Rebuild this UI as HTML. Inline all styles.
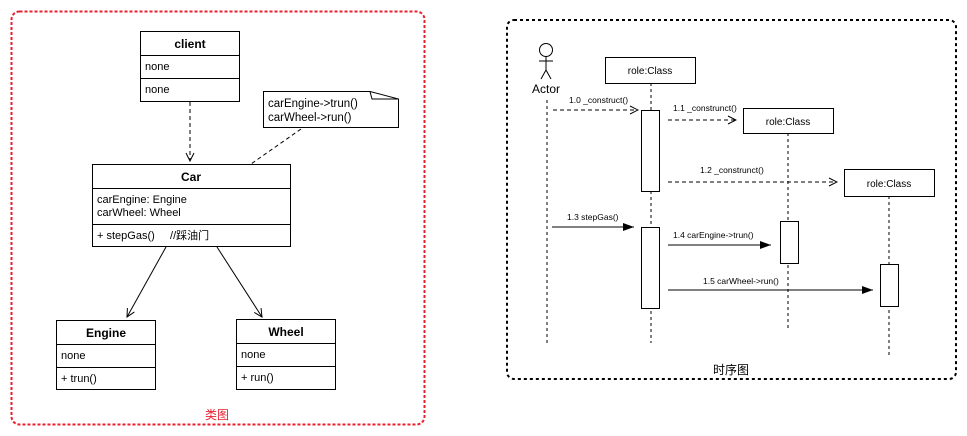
<!DOCTYPE html>
<html><head><meta charset="utf-8"><style>
html,body{margin:0;padding:0;background:#fff;width:967px;height:436px;overflow:hidden}
text{font-family:"Liberation Sans","Noto Sans CJK SC",sans-serif;fill:#000}
</style></head><body>
<svg width="967" height="436" viewBox="0 0 967 436" xmlns="http://www.w3.org/2000/svg">
<defs>
<marker id="op" markerWidth="10" markerHeight="10" refX="9" refY="5" orient="auto" markerUnits="userSpaceOnUse"><path d="M1,1 L9,5 L1,9" fill="none" stroke="#000" stroke-width="1"/></marker>
<marker id="fl" markerWidth="12" markerHeight="10" refX="11" refY="5" orient="auto" markerUnits="userSpaceOnUse"><path d="M0,1 L11,5 L0,9 Z" fill="#000"/></marker>
</defs>
<!-- left frame -->
<rect x="11.5" y="11.5" width="413" height="413" rx="8" fill="none" stroke="#e8202e" stroke-width="2" stroke-dasharray="3 2"/>
<text x="217" y="419" font-size="12" text-anchor="middle" style="fill:#e8202e">类图</text>
<g fill="#fff" stroke="#000" stroke-width="1">
<rect x="140.5" y="31.5" width="99" height="70"/>
<line x1="140" y1="55.5" x2="240" y2="55.5"/><line x1="140" y1="78.5" x2="240" y2="78.5"/>
<rect x="92.5" y="164.5" width="198" height="82"/>
<line x1="92" y1="188.5" x2="291" y2="188.5"/><line x1="92" y1="224.5" x2="291" y2="224.5"/>
<rect x="56.5" y="320.5" width="99" height="69"/>
<line x1="56" y1="344.5" x2="156" y2="344.5"/><line x1="56" y1="367.5" x2="156" y2="367.5"/>
<rect x="236.5" y="319.5" width="99" height="70"/>
<line x1="236" y1="343.5" x2="336" y2="343.5"/><line x1="236" y1="366.5" x2="336" y2="366.5"/>
<path d="M263.5,91.5 H370 L398.5,99 V127.5 H263.5 Z"/>
<path d="M370,91.5 L372,99 L398.5,99" fill="none"/>
</g>
<g font-size="11">
<text x="190" y="48" font-weight="bold" font-size="12" text-anchor="middle">client</text>
<text x="145" y="70">none</text><text x="145" y="93">none</text>
<text x="191" y="181" font-weight="bold" font-size="12" text-anchor="middle">Car</text>
<text x="97" y="203">carEngine: Engine</text><text x="97" y="216">carWheel: Wheel</text>
<text x="97" y="239">+ stepGas()&#160;&#160;&#160;&#160; //踩油门</text>
<text x="106" y="337" font-weight="bold" font-size="12" text-anchor="middle">Engine</text>
<text x="61" y="359">none</text><text x="61" y="382">+ trun()</text>
<text x="286" y="336" font-weight="bold" font-size="12" text-anchor="middle">Wheel</text>
<text x="241" y="358">none</text><text x="241" y="381">+ run()</text>
<text x="268" y="107" font-size="11.5">carEngine-&gt;trun()</text>
<text x="268" y="121" font-size="11.5">carWheel-&gt;run()</text>
</g>
<g stroke="#000" fill="none">
<line x1="190" y1="102" x2="190" y2="161" stroke-dasharray="4 3" marker-end="url(#op)"/>
<line x1="301" y1="129" x2="251" y2="164" stroke-dasharray="4 3"/>
<line x1="166" y1="247" x2="127" y2="317" marker-end="url(#op)"/>
<line x1="217" y1="247" x2="262" y2="317" marker-end="url(#op)"/>
</g>
<!-- right frame -->
<rect x="507" y="20" width="449" height="359" rx="7" fill="none" stroke="#000" stroke-width="2" stroke-dasharray="3 3"/>
<text x="731" y="374" font-size="12" text-anchor="middle">时序图</text>
<!-- actor -->
<g stroke="#000" fill="none">
<circle cx="546" cy="50" r="6.5"/>
<line x1="546" y1="56" x2="546" y2="70"/><line x1="539" y1="61" x2="553" y2="61"/>
<line x1="546" y1="70" x2="541" y2="79"/><line x1="546" y1="70" x2="551" y2="79"/>
</g>
<text x="546" y="93" font-size="12" text-anchor="middle">Actor</text>
<g stroke="#000" stroke-dasharray="3 3" fill="none">
<line x1="547" y1="100" x2="547" y2="343"/>
<line x1="651" y1="83" x2="651" y2="343"/>
<line x1="788" y1="133" x2="788" y2="330"/>
<line x1="889" y1="196" x2="889" y2="357"/>
</g>
<g fill="#fff" stroke="#000">
<rect x="605.5" y="57.5" width="90" height="26"/>
<rect x="743.5" y="108.5" width="90" height="25"/>
<rect x="844.5" y="169.5" width="90" height="27"/>
<rect x="641.5" y="110.5" width="18" height="81"/>
<rect x="641.5" y="227.5" width="18" height="81"/>
<rect x="780.5" y="221.5" width="18" height="42"/>
<rect x="880.5" y="264.5" width="18" height="42"/>
</g>
<g font-size="10" text-anchor="middle">
<text x="650" y="74">role:Class</text>
<text x="788" y="125">role:Class</text>
<text x="889" y="187">role:Class</text>
</g>
<g stroke="#000" fill="none">
<line x1="553" y1="110" x2="638" y2="110" stroke-dasharray="4 3" marker-end="url(#op)"/>
<line x1="668" y1="120" x2="736" y2="120" stroke-dasharray="4 3" marker-end="url(#op)"/>
<line x1="668" y1="182" x2="837" y2="182" stroke-dasharray="4 3" marker-end="url(#op)"/>
<line x1="552" y1="227" x2="634" y2="227" marker-end="url(#fl)"/>
<line x1="668" y1="245" x2="771" y2="245" marker-end="url(#fl)"/>
<line x1="668" y1="290" x2="873" y2="290" marker-end="url(#fl)"/>
</g>
<g font-size="8.5">
<text x="569" y="103">1.0 _construct()</text>
<text x="673" y="111">1.1 _construnct()</text>
<text x="700" y="173">1.2 _construnct()</text>
<text x="567" y="220">1.3 stepGas()</text>
<text x="673" y="238">1.4 carEngine-&gt;trun()</text>
<text x="703" y="284">1.5 carWheel-&gt;run()</text>
</g>
</svg>
</body></html>
